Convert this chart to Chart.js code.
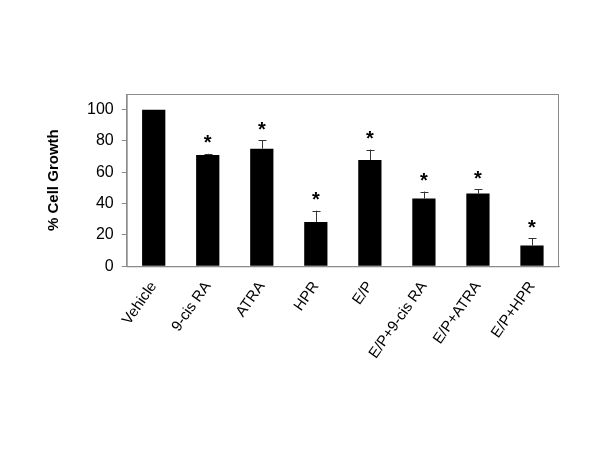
<!DOCTYPE html>
<html>
<head>
<meta charset="utf-8">
<script src="https://cdn.jsdelivr.net/npm/chart.js@4"></script>
<style>
  html, body { margin: 0; padding: 0; background: #fff; }
  #wrap { width: 600px; height: 450px; }
</style>
</head>
<body>
<div id="wrap"><canvas id="growthChart"></canvas></div>
<script>
// Cell growth by treatment, with upper error bars and significance marks

const categories = ['Vehicle', '9-cis RA', 'ATRA', 'HPR', 'E/P', 'E/P+9-cis RA', 'E/P+ATRA', 'E/P+HPR'];
const growth = [100, 71.1, 75.1, 28.3, 67.9, 43.2, 46.4, 13.3];
const errorUp = [0, 0.7, 5.4, 7.2, 6.6, 4.5, 2.8, 4.5];
const significant = [false, true, true, true, true, true, true, true];
const yTicks = [0, 20, 40, 60, 80, 100];

// Draws the frame, the upper error bars and the asterisks
const extrasPlugin = {
    id: 'extras',
    afterDatasetsDraw(chart) {
        const ctx = chart.ctx;
        const area = chart.chartArea;
        const x = chart.scales.x;
        const y = chart.scales.y;

        ctx.save();
        ctx.strokeStyle = '#8c8c8c';
        ctx.lineWidth = 1;
        ctx.strokeRect(area.left + 0.5, area.top + 0.5, area.right - area.left - 1, area.bottom - area.top);

        ctx.strokeStyle = '#333';
        growth.forEach((v, i) => {
            if (!errorUp[i]) return;
            const cx = Math.round(x.getPixelForValue(i)) + 0.5;
            const top = y.getPixelForValue(v + errorUp[i]);
            const base = y.getPixelForValue(v);
            ctx.beginPath();
            ctx.moveTo(cx, base);
            ctx.lineTo(cx, top);
            ctx.moveTo(cx - 4, Math.round(top) + 0.5);
            ctx.lineTo(cx + 4, Math.round(top) + 0.5);
            ctx.stroke();
        });

        ctx.fillStyle = '#000';
        ctx.font = 'bold 20px "Liberation Sans", Arial, sans-serif';
        ctx.textAlign = 'center';
        ctx.textBaseline = 'middle';
        growth.forEach((v, i) => {
            if (!significant[i]) return;
            const cx = x.getPixelForValue(i);
            const top = y.getPixelForValue(v + errorUp[i]);
            ctx.fillText('*', cx, top - 10);
        });
        ctx.restore();
    }
};

document.addEventListener('DOMContentLoaded', () => {
    const ctx = document.getElementById('growthChart').getContext('2d');
    new Chart(ctx, {
        type: 'bar',
        data: {
            labels: categories,
            datasets: [{
                label: '% Cell Growth',
                data: growth,
                backgroundColor: '#000',
                borderWidth: 0,
                barPercentage: 0.43,
                categoryPercentage: 1.0
            }]
        },
        options: {
            responsive: true,
            maintainAspectRatio: false,
            animation: false,
            layout: { padding: { top: 94, right: 41, bottom: 84, left: 45 } },
            plugins: {
                legend: { display: false },
                tooltip: { enabled: false }
            },
            scales: {
                x: {
                    grid: { display: false },
                    border: { display: true, color: '#8c8c8c' },
                    ticks: {
                        color: '#000',
                        minRotation: 55,
                        maxRotation: 55,
                        padding: 4,
                        font: { family: '"Liberation Sans", Arial, sans-serif', size: 15 }
                    }
                },
                y: {
                    min: 0,
                    max: 110,
                    afterBuildTicks: (axis) => {
                        axis.ticks = yTicks.map(v => ({ value: v }));
                    },
                    grid: {
                        drawOnChartArea: false,
                        drawTicks: true,
                        tickLength: 5,
                        color: '#8c8c8c'
                    },
                    border: { display: true, color: '#8c8c8c' },
                    ticks: {
                        color: '#000',
                        padding: 8,
                        font: { family: '"Liberation Sans", Arial, sans-serif', size: 16 }
                    },
                    title: {
                        display: true,
                        text: '% Cell Growth',
                        color: '#000',
                        padding: { top: 0, bottom: 16 },
                        font: { family: '"Liberation Sans", Arial, sans-serif', size: 15, weight: 'bold' }
                    }
                }
            }
        },
        plugins: [extrasPlugin]
    });
});
</script>
</body>
</html>
